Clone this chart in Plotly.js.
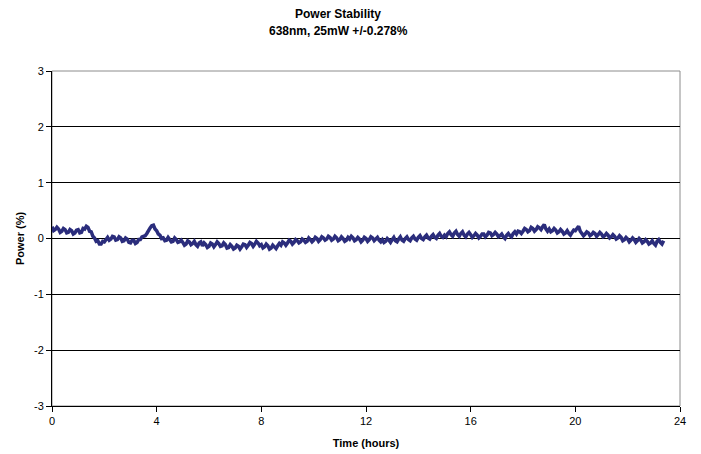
<!DOCTYPE html>
<html>
<head>
<meta charset="utf-8">
<script src="https://cdn.plot.ly/plotly-3.0.1.min.js"></script>
<style>html,body{margin:0;padding:0;background:#fff;}#chart{width:701px;height:454px;}</style>
</head>
<body>
<div id="chart"></div>
<script>
// Time axis: readings every 0.0625 h starting at 0 h
const startHour = 0;
const stepHours = 0.0625;

// Power deviation (%), 16 readings per hour (one row per hour)
const powerPct = [
  0.21, 0.14, 0.16, 0.20, 0.17, 0.11, 0.13, 0.18, 0.16, 0.10, 0.11, 0.16, 0.14, 0.08, 0.10, 0.15,
  0.16, 0.10, 0.11, 0.18, 0.17, 0.22, 0.20, 0.13, 0.12, 0.04, 0.01, -0.05, -0.04, -0.10, -0.10, -0.05,
  -0.06, -0.01, 0.02, -0.03, -0.01, 0.04, 0.03, -0.03, -0.02, 0.03, 0.01, -0.05, -0.04, 0.01, -0.01, -0.07,
  -0.08, -0.03, -0.03, -0.09, -0.07, -0.02, -0.02, 0.03, 0.04, 0.05, 0.09, 0.15, 0.19, 0.23, 0.24, 0.17,
  0.14, 0.08, 0.06, 0.00, 0.01, -0.04, -0.03, 0.02, -0.01, -0.06, -0.05, 0.01, -0.02, -0.07, -0.06, -0.03,
  -0.07, -0.12, -0.10, -0.04, -0.06, -0.11, -0.09, -0.05, -0.11, -0.14, -0.08, -0.06, -0.13, -0.08, -0.11, -0.16,
  -0.14, -0.08, -0.10, -0.15, -0.11, -0.06, -0.09, -0.14, -0.13, -0.08, -0.11, -0.17, -0.16, -0.11, -0.14, -0.19,
  -0.17, -0.12, -0.14, -0.19, -0.15, -0.10, -0.11, -0.16, -0.12, -0.07, -0.09, -0.14, -0.10, -0.05, -0.08, -0.13,
  -0.11, -0.17, -0.15, -0.10, -0.13, -0.19, -0.17, -0.12, -0.15, -0.18, -0.13, -0.09, -0.12, -0.06, -0.08, -0.12,
  -0.08, -0.03, -0.05, -0.10, -0.07, -0.02, -0.04, -0.08, -0.06, -0.01, -0.03, -0.07, -0.05, 0.01, -0.02, -0.06,
  -0.03, 0.02, 0.00, -0.05, -0.02, 0.03, 0.01, -0.03, -0.01, 0.04, 0.02, -0.03, -0.01, 0.04, 0.01, -0.04,
  -0.02, 0.03, 0.00, -0.05, -0.03, 0.02, -0.01, 0.04, 0.01, -0.04, -0.02, 0.02, -0.01, -0.06, -0.03, 0.02,
  0.00, -0.05, -0.02, 0.03, 0.01, -0.04, -0.01, 0.02, -0.03, -0.06, -0.02, -0.07, -0.05, 0.00, -0.03, -0.07,
  -0.02, 0.02, -0.04, -0.06, -0.01, 0.03, -0.03, -0.05, 0.00, 0.03, -0.02, -0.04, 0.01, 0.04, -0.01, -0.03,
  0.02, 0.05, 0.00, -0.02, 0.03, 0.06, 0.01, -0.01, 0.04, 0.07, 0.02, 0.00, 0.06, 0.09, 0.04, 0.02,
  0.06, 0.03, 0.09, 0.12, 0.07, 0.04, 0.10, 0.13, 0.07, 0.04, 0.09, 0.12, 0.06, 0.03, 0.08, 0.11,
  0.07, 0.02, 0.05, 0.09, 0.06, 0.01, 0.04, 0.08, 0.08, 0.03, 0.06, 0.11, 0.10, 0.05, 0.07, 0.11,
  0.08, 0.03, 0.05, 0.08, 0.03, 0.00, 0.06, 0.09, 0.05, 0.03, 0.09, 0.12, 0.08, 0.13, 0.12, 0.09,
  0.13, 0.18, 0.16, 0.12, 0.14, 0.20, 0.18, 0.13, 0.16, 0.21, 0.19, 0.16, 0.21, 0.25, 0.17, 0.13,
  0.17, 0.12, 0.14, 0.18, 0.15, 0.10, 0.12, 0.16, 0.13, 0.08, 0.10, 0.14, 0.09, 0.06, 0.11, 0.15,
  0.14, 0.19, 0.22, 0.13, 0.10, 0.05, 0.08, 0.12, 0.10, 0.05, 0.07, 0.11, 0.09, 0.04, 0.07, 0.11,
  0.08, 0.03, 0.05, 0.09, 0.06, 0.01, 0.03, 0.07, 0.04, -0.01, 0.01, 0.05, 0.02, -0.04, -0.02, 0.02,
  -0.01, -0.06, -0.03, 0.01, -0.02, -0.07, -0.04, 0.00, -0.03, -0.08, -0.06, -0.02, -0.05, -0.10, -0.08, -0.04,
  -0.09, -0.12, -0.05, -0.02, -0.07, -0.10, -0.04
];

const xTickVals = [0, 4, 8, 12, 16, 20, 24];
const xTickText = ['0', '4', '8', '12', '16', '20', '24'];
const yTickVals = [-3, -2, -1, 0, 1, 2, 3];
const yTickText = ['-3', '-2', '-1', '0', '1', '2', '3'];

const titleMain = 'Power Stability';
const titleSub = '638nm, 25mW +/-0.278%';
const xTitle = 'Time (hours)';
const yTitle = 'Power (%)';

const font = 'Liberation Sans, Arial, sans-serif';

const trace = {
  type: 'scatter',
  mode: 'lines',
  x0: startHour,
  dx: stepHours,
  y: powerPct,
  line: {color: '#2B2D7C', width: 3.5},
  hoverinfo: 'skip'
};

const layout = {
  width: 701,
  height: 454,
  margin: {l: 52, r: 21, t: 71, b: 48},
  paper_bgcolor: '#ffffff',
  plot_bgcolor: '#ffffff',
  showlegend: false,
  font: {family: font, size: 11, color: '#000'},
  xaxis: {
    range: [0, 24],
    tickvals: xTickVals, ticktext: xTickText,
    ticks: 'outside', ticklen: 5, tickcolor: '#000', tickwidth: 1,
    showline: true, linecolor: '#000', linewidth: 1,
    showgrid: false, zeroline: false,
    tickfont: {family: font, size: 11, color: '#000'},
    title: {text: '<b>' + xTitle + '</b>', font: {family: font, size: 11, color: '#000'}, standoff: 13}
  },
  yaxis: {
    range: [-3, 3],
    tickvals: yTickVals, ticktext: yTickText,
    ticks: 'outside', ticklen: 5, tickcolor: '#000', tickwidth: 1,
    showline: true, linecolor: '#000', linewidth: 1,
    showgrid: true, gridcolor: '#000', gridwidth: 1,
    zeroline: false,
    tickfont: {family: font, size: 11, color: '#000'},
    title: {text: '<b>' + yTitle + '</b>', font: {family: font, size: 11, color: '#000'}, standoff: 7}
  },
  annotations: [
    {text: '<b>' + titleMain + '</b>', xref: 'paper', yref: 'paper',
     x: (338 - 52) / 628, y: 1 + (71 - 14) / 335, xanchor: 'center', yanchor: 'middle',
     showarrow: false, font: {family: font, size: 12, color: '#000'}},
    {text: '<b>' + titleSub + '</b>', xref: 'paper', yref: 'paper',
     x: (338 - 52) / 628, y: 1 + (71 - 31) / 335, xanchor: 'center', yanchor: 'middle',
     showarrow: false, font: {family: font, size: 12, color: '#000'}}
  ],
  shapes: [{
    type: 'rect', xref: 'paper', yref: 'paper', x0: 0, x1: 1, y0: 0, y1: 1,
    line: {color: '#8c8c8c', width: 1}, layer: 'below'
  }]
};

Plotly.newPlot('chart', [trace], layout, {staticPlot: true, displayModeBar: false});
</script>
</body>
</html>
